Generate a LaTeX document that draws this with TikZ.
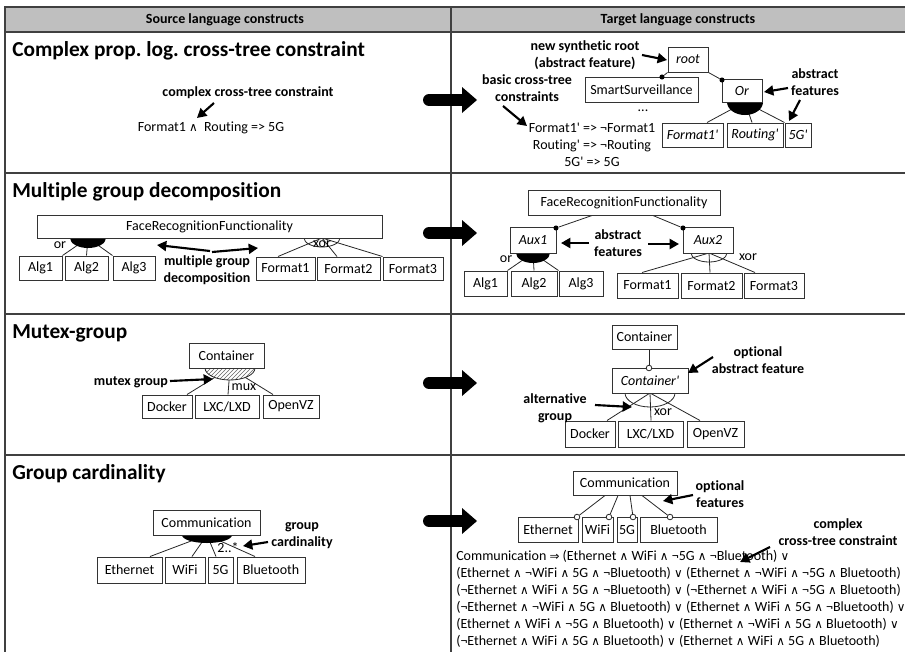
\documentclass[tikz,border=0pt]{standalone}
\usepackage{fontspec}
\setmainfont{Carlito}[Ligatures=NoCommon]
\newfontfamily\symf{DejaVu Sans}[Scale=0.85]
\usetikzlibrary{arrows.meta,patterns}
\pgfdeclarelayer{background}
\pgfsetlayers{background,main}
\newcommand\AND{{\symf ∧}}
\newcommand\OR{{\symf ∨}}
\newcommand\IMP{{\symf ⇒}}
\newcommand\q{\textquotesingle}
% feature box given by its corners (px)
\newcommand\fmbox[7][]{\node[fbox,#1,minimum width={(#5-#3)*0.75pt},minimum height={(#6-#4)*0.75pt}] (#2) at ({(#3+#5)/2},{(#4+#6)/2}) {#7};}
% filled (or) group arc: centre x, y, radii (px)
\newcommand\orgroup[4]{\fill ({#1-#3},#2) arc[start angle=180,end angle=360,x radius={#3*0.75pt},y radius={#4*0.75pt}];}
% open (xor) group arc
\newcommand\xorgroup[4]{\draw[edge] ({#1-#3},#2) arc[start angle=180,end angle=360,x radius={#3*0.75pt},y radius={#4*0.75pt}];}
% block arrow between the two columns
\newcommand\blockarrow[1]{%
  \draw[line width=9pt,line cap=round] (429,#1) -- (463,#1);
  \fill (462,{#1-13}) -- (477,#1) -- (462,{#1+13}) -- cycle;}
\begin{document}
\frenchspacing
\begin{tikzpicture}[x=0.75pt,y=-0.75pt,
  font=\fontsize{10.5}{12.75}\selectfont,
  fbox/.style={draw=black!80,fill=white,line width=0.75pt,inner sep=0pt},
  edge/.style={draw=black!85,line width=0.6pt},
  grid/.style={draw=black!75,line width=1.1pt},
  lbl/.style={font=\fontsize{10.5}{12.75}\selectfont\bfseries,align=center,inner sep=0pt},
  title/.style={font=\fontsize{16}{19}\selectfont\bfseries,anchor=base west,inner sep=0pt},
  annot/.style={line width=1.6pt,-{Triangle[length=7pt,width=7.5pt]}},
  mand/.style={circle,fill=black,inner sep=0pt,minimum size=3.8pt},
  opt/.style={circle,draw=black!85,fill=white,line width=0.6pt,inner sep=0pt,minimum size=4.2pt},
  small/.style={inner sep=0pt}]
\useasboundingbox (0,0) rectangle (905,651);
\clip (0,0) rectangle (905,651);

% table frame
\fill[black!25] (5,7) rectangle (915,32);
\draw[grid] (915,7) -- (5,7) -- (5,660);
\draw[grid] (451,7) -- (451,660);
\foreach \yy in {32,173,314,455} \draw[grid] (5,\yy) -- (915,\yy);
\node[lbl] (hsrc) at (225,20) {Source language constructs};
\node[lbl] (htgt) at (678,20) {Target language constructs};

% block arrows
\blockarrow{100}
\blockarrow{233}
\blockarrow{383}
\blockarrow{521}

% ---------- complex cross-tree constraint ----------
\node[title] (t1) at (12,56) {Complex prop. log. cross-tree constraint};
\node[lbl] (l1) at (248,93) {complex cross-tree constraint};
\node (c1) at (211,128) {Format1 \AND\ \ Routing => 5G};
\coordinate (a1s) at (214,103); \coordinate (a1e) at (197,118);
\draw[annot] (a1s) -- (a1e);

\node[lbl] (l2) at (585,55) {new synthetic root\\(abstract feature)};
\fmbox{root}{668}{47}{708}{72}{\textit{root}}
\fmbox{ss}{585}{77}{698}{102}{SmartSurveillance}
\fmbox{or}{722}{79}{762}{102}{\textit{Or}}
\fmbox{f1p}{662}{123}{723}{147}{\textit{Format1\q}}
\fmbox{rp}{727}{123}{783}{147}{\textit{Routing\q}}
\fmbox{gp}{785}{123}{811}{147}{\textit{5G\q}}
\node[mand] (m1) at (662,77) {};
\node[mand] (m2) at (722,80) {};
\node (dots) at (643,111) {...};
\node[lbl] (l3) at (815,82) {abstract\\features};
\node[lbl] (l4) at (527,88) {basic cross-tree\\constraints};
\node[align=center] (c2) at (592,145) {Format1\q{} => ¬Format1\\Routing\q{} => ¬Routing\\5G\q{} => 5G};
\coordinate (gor) at (745,102);
\coordinate (a2s) at (642,55); \coordinate (a2e) at (667,60);
\coordinate (a3s) at (788,88); \coordinate (a3e) at (764,92);
\coordinate (a4s) at (800,100); \coordinate (a4e) at (789,121);
\coordinate (a5s) at (503,106); \coordinate (a5e) at (527,126);
\draw[annot] (a2s) -- (a2e);
\draw[annot] (a3s) -- (a3e);
\draw[annot] (a4s) -- (a4e);
\draw[annot] (a5s) -- (a5e);

% ---------- multiple group decomposition ----------
\node[title] (t2) at (12,197) {Multiple group decomposition};
\fmbox{frf}{37}{215}{382}{238}{FaceRecognitionFunctionality}
\fmbox{alg1}{19}{256}{62}{280}{Alg1}
\fmbox{alg2}{65}{256}{108}{280}{Alg2}
\fmbox{alg3}{113}{256}{155}{280}{Alg3}
\fmbox{fm1}{256}{257}{315}{280}{Format1}
\fmbox{fm2}{317}{257}{380}{280}{Format2}
\fmbox{fm3}{383}{257}{443}{280}{Format3}
\node[small] (or1) at (60,245) {or};
\node[small] (xor1) at (322,244) {xor};
\node[lbl] (l5) at (207,270) {multiple group\\decomposition};
\coordinate (gA) at (88,238);
\coordinate (gB) at (322,238);
\coordinate (a6s) at (210,251); \coordinate (a6e) at (157,245);
\coordinate (a7s) at (212,252); \coordinate (a7e) at (258,248);
\draw[annot] (a6s) -- (a6e);
\draw[annot] (a7s) -- (a7e);

\fmbox{frf2}{528}{190}{720}{215}{FaceRecognitionFunctionality}
\fmbox{aux1}{510}{227}{556}{253}{\textit{Aux1}}
\fmbox{aux2}{683}{227}{733}{253}{\textit{Aux2}}
\node[mand] (m3) at (556,228) {};
\node[mand] (m4) at (683,228) {};
\fmbox{ralg1}{464}{271}{507}{296}{Alg1}
\fmbox{ralg2}{511}{271}{557}{296}{Alg2}
\fmbox{ralg3}{559}{271}{603}{296}{Alg3}
\fmbox{rfm1}{617}{273}{678}{298}{Format1}
\fmbox{rfm2}{681}{273}{742}{298}{Format2}
\fmbox{rfm3}{744}{273}{804}{298}{Format3}
\node[small] (or2) at (506,259) {or};
\node[small] (xor2) at (748,257) {xor};
\node[lbl] (l6) at (618,243) {abstract\\features};
\coordinate (gC) at (533,253);
\coordinate (gD) at (709,253);
\coordinate (a8s) at (589,243); \coordinate (a8e) at (561,243);
\coordinate (a9s) at (648,244); \coordinate (a9e) at (679,244);
\draw[annot] (a8s) -- (a8e);
\draw[annot] (a9s) -- (a9e);

% ---------- mutex group ----------
\node[title] (t3) at (12,338) {Mutex-group};
\fmbox{cont}{189}{343}{264}{368}{Container}
\fmbox{dock}{142}{395}{192}{418}{Docker}
\fmbox{lxc}{195}{395}{259}{418}{LXC/LXD}
\fmbox{ovz}{263}{395}{319}{418}{OpenVZ}
\node[small] (mux) at (244,387) {mux};
\node[lbl] (l7) at (131,382) {mutex group};
\coordinate (gE) at (230,368);
\coordinate (b1s) at (170,381); \coordinate (b1e) at (213,379);
\draw[annot] (b1s) -- (b1e);

\fmbox{cont2}{612}{325}{677}{349}{Container}
\fmbox{contp}{612}{368}{688}{393}{\textit{Container\q}}
\node[opt] (o1) at (649,368) {};
\fmbox{rdock}{565}{421}{615}{447}{Docker}
\fmbox{rlxc}{618}{421}{683}{447}{LXC/LXD}
\fmbox{rovz}{687}{421}{744}{447}{OpenVZ}
\node[small] (xor3) at (663,412) {xor};
\node[lbl] (l8) at (758,360) {optional\\abstract feature};
\node[lbl] (l9) at (555,408) {alternative\\group};
\coordinate (gF) at (650,393);
\coordinate (b2s) at (713,357); \coordinate (b2e) at (688,373);
\coordinate (b3s) at (595,405); \coordinate (b3e) at (632,407);
\draw[annot] (b2s) -- (b2e);
\draw[annot] (b3s) -- (b3e);

% ---------- group cardinality ----------
\node[title] (t4) at (12,479) {Group cardinality};
\fmbox{comm}{153}{510}{260}{535}{Communication}
\fmbox{eth}{97}{557}{162}{583}{Ethernet}
\fmbox{wifi}{165}{557}{205}{583}{WiFi}
\fmbox{fg}{208}{557}{233}{583}{5G}
\fmbox{bt}{237}{557}{305}{583}{Bluetooth}
\node[small] (card) at (228,548) {2..*};
\node[lbl] (l10) at (302,536) {group\\cardinality};
\coordinate (gG) at (207,535);
\coordinate (b4s) at (268,542); \coordinate (b4e) at (243,546);
\draw[annot] (b4s) -- (b4e);

\fmbox{comm2}{573}{471}{677}{495}{Communication}
\fmbox{reth}{518}{517}{578}{542}{Ethernet}
\fmbox{rwifi}{582}{517}{613}{542}{WiFi}
\fmbox{rfg}{617}{517}{637}{542}{5G}
\fmbox{rbt}{640}{517}{717}{542}{Bluetooth}
\node[opt] (o2) at (577,517) {};
\node[opt] (o3) at (609,517) {};
\node[opt] (o4) at (633,517) {};
\node[opt] (o5) at (670,517) {};
\node[lbl] (l11) at (720,494) {optional\\features};
\node[lbl] (l12) at (838,532) {complex\\cross-tree constraint};
\coordinate (b5s) at (693,495); \coordinate (b5e) at (663,501);
\coordinate (b6s) at (770,547); \coordinate (b6e) at (740,562);
\draw[annot] (b5s) -- (b5e);
\draw[annot] (b6s) -- (b6e);
\node[align=left,anchor=west,inner sep=0pt] (ctc) at (456,598.5) {%
Communication \IMP{} (Ethernet \AND{} WiFi \AND{} ¬5G \AND{} ¬Bluetooth) \OR\\
(Ethernet \AND{} ¬WiFi \AND{} 5G \AND{} ¬Bluetooth) \OR{} (Ethernet \AND{} ¬WiFi \AND{} ¬5G \AND{} Bluetooth) \OR\\
(¬Ethernet \AND{} WiFi \AND{} 5G \AND{} ¬Bluetooth) \OR{} (¬Ethernet \AND{} WiFi \AND{} ¬5G \AND{} Bluetooth) \OR\\
(¬Ethernet \AND{} ¬WiFi \AND{} 5G \AND{} Bluetooth) \OR{} (Ethernet \AND{} WiFi \AND{} 5G \AND{} ¬Bluetooth) \OR\\
(Ethernet \AND{} WiFi \AND{} ¬5G \AND{} Bluetooth) \OR{} (Ethernet \AND{} ¬WiFi \AND{} 5G \AND{} Bluetooth) \OR\\
(¬Ethernet \AND{} WiFi \AND{} 5G \AND{} Bluetooth) \OR{} (Ethernet \AND{} WiFi \AND{} 5G \AND{} Bluetooth)};

% ---------- connectors and group symbols ----------
\begin{pgfonlayer}{background}
  \draw[edge] (root.south west) -- (m1);
  \draw[edge] (root.south east) -- (m2);
  \draw[edge] (gor) -- (707,0 |- f1p.north);
  \draw[edge] (gor) -- (752,0 |- rp.north);
  \draw[edge] (gor) -- (gp.north west);
  \orgroup{745}{102}{18}{13}

  \draw[edge] (gA) -- (alg1.north east);
  \draw[edge] (gA) -- (alg2.north);
  \draw[edge] (gA) -- (alg3.north west);
  \orgroup{88}{238}{18}{10}
  \draw[edge] (gB) -- (278,0 |- fm1.north);
  \draw[edge] (gB) -- (337,0 |- fm2.north);
  \draw[edge] (gB) -- (fm3.north west);
  \xorgroup{322}{238}{18}{9}

  \draw[edge] (592,0 |- frf2.south) -- (m3);
  \draw[edge] (653,0 |- frf2.south) -- (m4);
  \draw[edge] (gC) -- (ralg1.north east);
  \draw[edge] (gC) -- (ralg2.north);
  \draw[edge] (gC) -- (ralg3.north west);
  \orgroup{533}{253}{17}{10}
  \draw[edge] (gD) -- (642,0 |- rfm1.north);
  \draw[edge] (gD) -- (710,0 |- rfm2.north);
  \draw[edge] (gD) -- (755,0 |- rfm3.north);
  \xorgroup{709}{253}{18}{9}

  \draw[edge] (gE) -- (187,0 |- dock.north);
  \draw[edge] (gE) -- (228,0 |- lxc.north);
  \draw[edge] (gE) -- (273,0 |- ovz.north);
  \fill[white] (gE) ellipse [x radius=18.75pt,y radius=9pt];
  \fill[pattern=north east lines,pattern color=black!60] (gE) ellipse [x radius=18.75pt,y radius=9pt];
  \draw[edge] (gE) ellipse [x radius=18.75pt,y radius=9pt];

  \draw[edge] (649,0 |- cont2.south) -- (o1);
  \draw[edge] (gF) -- (607,0 |- rdock.north);
  \draw[edge] (gF) -- (651,0 |- rlxc.north);
  \draw[edge] (gF) -- (700,0 |- rovz.north);
  \xorgroup{650}{393}{25}{14}

  \draw[edge] (gG) -- (150,0 |- eth.north);
  \draw[edge] (gG) -- (192,0 |- wifi.north);
  \draw[edge] (gG) -- (216,0 |- fg.north);
  \draw[edge] (gG) -- (255,0 |- bt.north);
  \orgroup{207}{535}{25}{8}

  \draw[edge] (605,0 |- comm2.south) -- (o2);
  \draw[edge] (618,0 |- comm2.south) -- (o3);
  \draw[edge] (630,0 |- comm2.south) -- (o4);
  \draw[edge] (642,0 |- comm2.south) -- (o5);
\end{pgfonlayer}
\end{tikzpicture}
\end{document}
